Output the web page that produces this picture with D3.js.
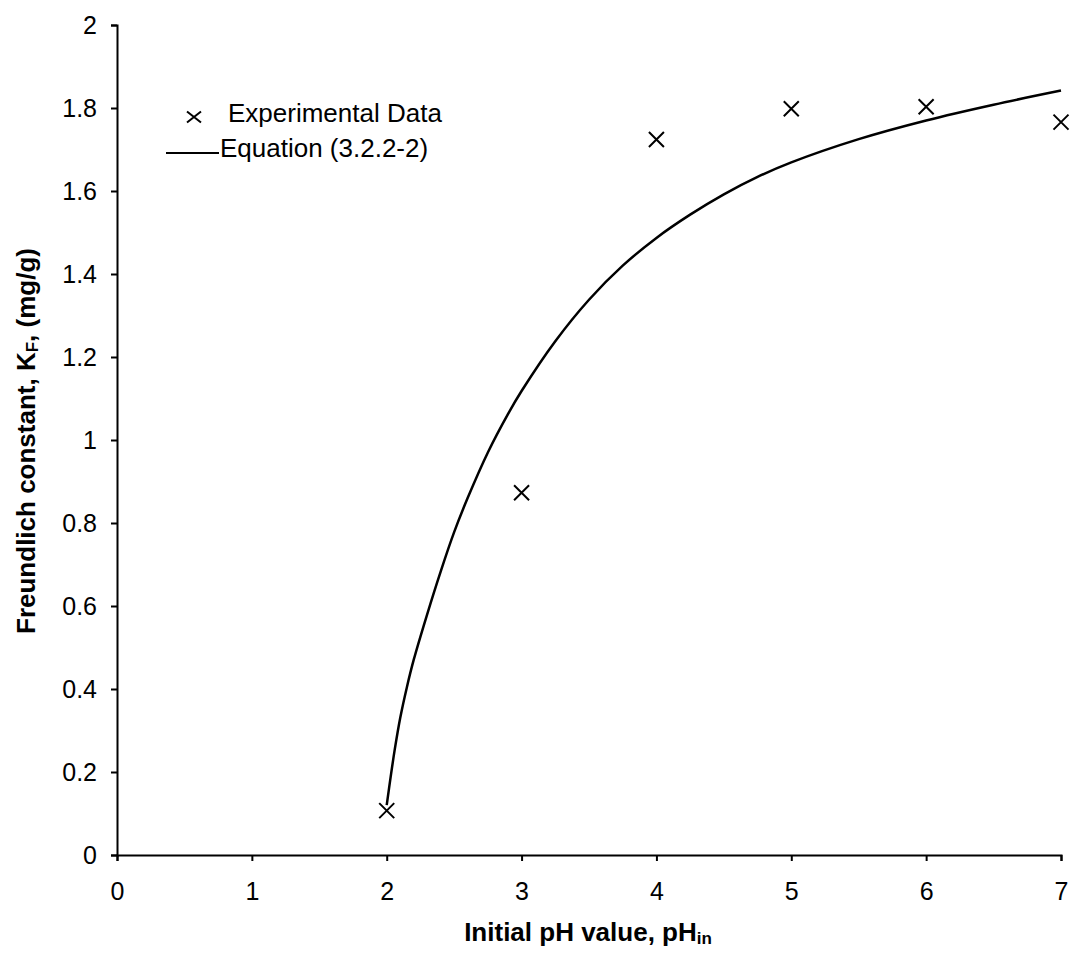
<!DOCTYPE html>
<html><head><meta charset="utf-8">
<script src="https://cdn.jsdelivr.net/npm/d3@7/dist/d3.min.js"></script>
<style>body{margin:0;background:#fff}svg{display:block}text{font-family:"Liberation Sans",Arial,sans-serif}</style>
</head><body>
<script>
const expX = [2, 3, 4, 5, 6, 7];
const expY = [0.107, 0.873, 1.724, 1.798, 1.803, 1.766];
const eqX = [2.00, 2.03, 2.06, 2.10, 2.15, 2.20, 2.30, 2.40, 2.50, 2.60, 2.75, 2.90, 3.00, 3.25, 3.50, 3.75, 4.00, 4.25, 4.50, 4.75, 5.00, 5.50, 6.00, 6.50, 7.00];
const eqY = [0.12, 0.19, 0.255, 0.33, 0.405, 0.47, 0.58, 0.683, 0.778, 0.86, 0.97, 1.063, 1.118, 1.238, 1.338, 1.42, 1.487, 1.543, 1.592, 1.634, 1.669, 1.725, 1.77, 1.808, 1.842];
const xTicks = [0, 1, 2, 3, 4, 5, 6, 7];
const yTicks = [0, 0.2, 0.4, 0.6, 0.8, 1, 1.2, 1.4, 1.6, 1.8, 2];
const legendLabels = ["Experimental Data", "Equation (3.2.2-2)"];

const W = 1072, H = 959;
const FONT = '"Liberation Sans",Arial,sans-serif';
const svg = d3.select("body").append("svg").attr("width", W).attr("height", H);
const x = d3.scaleLinear().domain([0, 7]).range([117, 1061]);
const y = d3.scaleLinear().domain([0, 2]).range([855, 25]);

const xAxis = svg.append("g").attr("transform", `translate(0,${y(0)})`)
  .call(d3.axisBottom(x).tickValues(xTicks).tickSize(6).tickPadding(21).tickFormat(d3.format("d")));
const yAxis = svg.append("g").attr("transform", `translate(${x(0)},0)`)
  .call(d3.axisLeft(y).tickValues(yTicks).tickSize(6).tickPadding(14).tickFormat(d => String(+d.toFixed(1))));
[xAxis, yAxis].forEach(g => {
  g.select(".domain").attr("stroke", "#000").attr("stroke-width", 2);
  g.selectAll(".tick line").attr("stroke", "#000").attr("stroke-width", 2);
  g.selectAll(".tick text").attr("font-size", 25).attr("fill", "#000").style("font-family", FONT);
});

// curve
const line = d3.line().x(d => x(d[0])).y(d => y(d[1])).curve(d3.curveCatmullRom.alpha(0.5));
svg.append("path").datum(eqX.map((v, i) => [v, eqY[i]]))
  .attr("d", line).attr("fill", "none").attr("stroke", "#000").attr("stroke-width", 2.5);

// crosses
const cross = (g, cx, cy, sx, sy) => {
  g.append("path").attr("d", `M${cx - sx},${cy - sy}L${cx + sx},${cy + sy}M${cx - sx},${cy + sy}L${cx + sx},${cy - sy}`)
    .attr("stroke", "#000").attr("stroke-width", 2).attr("fill", "none");
};
const pts = svg.append("g");
expX.forEach((v, i) => cross(pts, x(v), y(expY[i]), 7.5, 7.5));

// legend
const lg = svg.append("g");
cross(lg, 194, 117, 7, 5.5);
lg.append("text").attr("x", 228).attr("y", 122).attr("font-size", 26).text(legendLabels[0]);
lg.append("line").attr("x1", 166).attr("x2", 219).attr("y1", 153).attr("y2", 153).attr("stroke", "#000").attr("stroke-width", 2);
lg.append("text").attr("x", 220).attr("y", 157).attr("font-size", 26).text(legendLabels[1]);

// axis titles
const xt = svg.append("text").attr("x", 588).attr("y", 941).attr("text-anchor", "middle")
  .attr("font-size", 26).attr("font-weight", "bold");
xt.append("tspan").text("Initial pH value, pH");
xt.append("tspan").attr("font-size", 17).attr("dy", 3).text("in");

const yt = svg.append("text").attr("transform", "translate(35,441) rotate(-90)").attr("text-anchor", "middle")
  .attr("font-size", 26).attr("font-weight", "bold");
yt.append("tspan").text("Freundlich constant, K");
yt.append("tspan").attr("font-size", 17).attr("dy", 3).text("F");
yt.append("tspan").attr("dy", -3).text(", (mg/g)");
</script>
</body></html>
